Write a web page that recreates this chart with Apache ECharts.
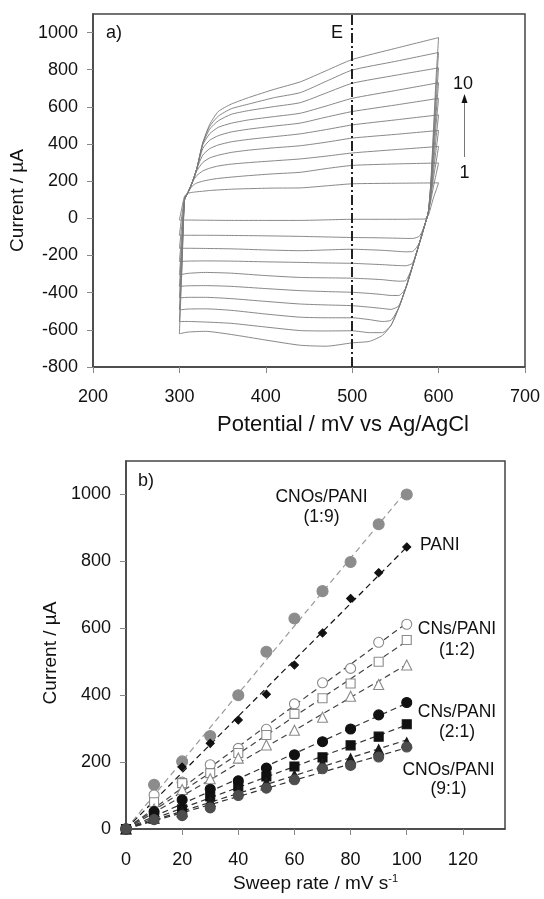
<!DOCTYPE html>
<html><head><meta charset="utf-8">
<script src="https://cdn.jsdelivr.net/npm/echarts@6/dist/echarts.min.js"></script>
<style>html,body{margin:0;padding:0;background:#fff}#c{width:544px;height:899px}</style>
</head><body><div id="c"></div>
<script>
// ---------- Panel a: cyclic voltammograms (10 cycles) ----------
const potentialUp = [300, 303, 306, 310, 315, 320, 327, 335, 345, 360, 380, 410, 440, 470, 500, 550, 600];
const currentUp = [
  [-9, 60, 120, 135, 140, 143, 146, 150, 153, 157, 160, 163, 164, 175, 186, 189, 191],
  [-91, 20, 102, 140, 175, 190, 200, 208, 215, 222, 230, 240, 248, 268, 285, 293, 298],
  [-161, -30, 102, 140, 195, 230, 255, 270, 282, 292, 300, 310, 320, 335, 352, 370, 387],
  [-232, -80, 102, 140, 195, 255, 300, 325, 340, 355, 367, 380, 391, 410, 432, 452, 473],
  [-304, -120, 102, 140, 195, 265, 340, 375, 395, 412, 425, 440, 455, 478, 503, 530, 557],
  [-366, -150, 102, 140, 195, 265, 375, 420, 445, 465, 480, 497, 513, 545, 575, 610, 646],
  [-428, -180, 102, 140, 195, 265, 395, 455, 490, 512, 530, 548, 566, 605, 646, 688, 730],
  [-493, -210, 102, 140, 195, 265, 400, 480, 525, 560, 580, 602, 623, 675, 727, 770, 810],
  [-555, -240, 102, 140, 195, 265, 405, 495, 550, 590, 615, 650, 677, 738, 798, 845, 893],
  [-621, -260, 102, 140, 195, 265, 405, 505, 575, 615, 650, 695, 735, 795, 855, 915, 973]
];
const potentialDown = [600, 597, 594, 591, 588, 584, 578, 570, 562, 554, 545, 535, 520, 500, 470, 440, 400, 360, 330, 310, 300];
const currentDown = [
  [191, 150, 110, 60, 15, -3, -4, -4, -5, -5, -5, -5, -5, -5, -8, -11, -11, -11, -10, -9, -9],
  [298, 235, 170, 95, 30, -35, -95, -108, -108, -107, -106, -105, -104, -103, -100, -97, -94, -92, -91, -91, -91],
  [387, 300, 215, 115, 30, -35, -130, -178, -180, -178, -175, -172, -169, -166, -170, -174, -170, -164, -162, -161, -161],
  [473, 365, 250, 125, 30, -35, -130, -240, -255, -254, -252, -249, -246, -242, -240, -237, -234, -230, -229, -230, -232],
  [557, 430, 290, 140, 30, -35, -130, -255, -335, -338, -335, -330, -326, -322, -320, -318, -308, -295, -291, -296, -304],
  [646, 500, 330, 150, 30, -35, -130, -255, -375, -415, -415, -410, -404, -398, -394, -389, -378, -366, -362, -363, -366],
  [730, 560, 370, 165, 30, -35, -130, -255, -375, -470, -490, -485, -478, -470, -466, -461, -447, -432, -425, -425, -428],
  [810, 620, 400, 175, 30, -35, -130, -255, -375, -480, -548, -555, -545, -535, -535, -532, -515, -495, -487, -488, -493],
  [893, 690, 440, 185, 30, -35, -130, -255, -375, -480, -575, -615, -615, -605, -606, -604, -585, -565, -558, -555, -555],
  [973, 750, 470, 195, 30, -35, -130, -255, -375, -480, -575, -630, -662, -670, -688, -683, -655, -625, -608, -612, -621]
];
const markerPotentialE = 500;
const aXTicks = [200, 300, 400, 500, 600, 700];
const aYTicks = [-800, -600, -400, -200, 0, 200, 400, 600, 800, 1000];

// ---------- Panel b: current vs sweep rate ----------
const sweepRate = [0, 10, 20, 30, 40, 50, 60, 70, 80, 90, 100];
const cnosPani19 = [0, 132, 202, 278, 400, 530, 629, 711, 798, 911, 1000];
const pani = [0, 97, 185, 256, 326, 403, 490, 586, 689, 766, 843];
const cnsPani12Circle = [0, 102, 140, 192, 241, 298, 374, 437, 480, 558, 612];
const cnsPani12Square = [0, 80, 137, 167, 227, 281, 344, 391, 435, 500, 565];
const cnsPani12Triangle = [0, 60, 118, 150, 212, 251, 295, 334, 397, 432, 490];
const cnsPani21Circle = [0, 52, 87, 119, 144, 182, 222, 261, 299, 341, 378];
const cnsPani21Square = [0, 38, 59, 97, 127, 157, 187, 214, 250, 276, 313];
const cnosPani91Triangle = [0, 32, 52, 82, 115, 138, 160, 195, 210, 237, 258];
const cnosPani91Circle = [0, 28, 40, 63, 100, 122, 147, 180, 190, 215, 245];
const bXTicks = [0, 20, 40, 60, 80, 100, 120];
const bYTicks = [0, 200, 400, 600, 800, 1000];

const FONT = 'Liberation Sans, Arial, sans-serif';
const TXT = '#111';

const bSeriesDefs = [
  {name: 'CNOs/PANI (1:9)', values: cnosPani19, symbol: 'circle', size: 11, fill: '#8c8c8c', stroke: '#8c8c8c', line: '#9a9a9a'},
  {name: 'PANI', values: pani, symbol: 'diamond', size: 8, fill: '#111', stroke: '#111', line: '#111'},
  {name: 'CNs/PANI (1:2) a', values: cnsPani12Circle, symbol: 'circle', size: 10, fill: '#fff', stroke: '#8a8a8a', line: '#444'},
  {name: 'CNs/PANI (1:2) b', values: cnsPani12Square, symbol: 'rect', size: 9, fill: '#fff', stroke: '#8a8a8a', line: '#444'},
  {name: 'CNs/PANI (1:2) c', values: cnsPani12Triangle, symbol: 'triangle', size: 10, fill: '#fff', stroke: '#8a8a8a', line: '#444'},
  {name: 'CNs/PANI (2:1) a', values: cnsPani21Circle, symbol: 'circle', size: 10, fill: '#111', stroke: '#111', line: '#333'},
  {name: 'CNs/PANI (2:1) b', values: cnsPani21Square, symbol: 'rect', size: 9, fill: '#111', stroke: '#111', line: '#333'},
  {name: 'CNOs/PANI (9:1) a', values: cnosPani91Triangle, symbol: 'triangle', size: 10, fill: '#1a1a1a', stroke: '#1a1a1a', line: '#333'},
  {name: 'CNOs/PANI (9:1) b', values: cnosPani91Circle, symbol: 'circle', size: 10, fill: '#4d4d4d', stroke: '#4d4d4d', line: '#333'}
];

function fitThroughOrigin(xs, ys) {
  let sxy = 0, sxx = 0;
  for (let i = 0; i < xs.length; i++) { sxy += xs[i] * ys[i]; sxx += xs[i] * xs[i]; }
  const k = sxy / sxx;
  const xEnd = xs[xs.length - 1];
  return [[xs[0], k * xs[0]], [xEnd, k * xEnd]];
}

const series = [];
currentUp.forEach((up, i) => {
  const pts = potentialUp.map((p, j) => [p, up[j]]).concat(potentialDown.map((p, j) => [p, currentDown[i][j]]));
  const s = {
    type: 'line', xAxisIndex: 0, yAxisIndex: 0, data: pts, showSymbol: false, symbol: 'none',
    smooth: 0.2, lineStyle: {color: '#7a7a7a', width: 0.9}, silent: true, z: 2
  };
  if (i === currentUp.length - 1) {
    s.markLine = {
      silent: true, symbol: 'none', label: {show: false},
      lineStyle: {color: '#222', width: 2, type: [10, 3, 2, 3]},
      data: [{xAxis: markerPotentialE}]
    };
  }
  series.push(s);
});

bSeriesDefs.forEach(d => {
  series.push({
    type: 'line', xAxisIndex: 1, yAxisIndex: 1, data: fitThroughOrigin(sweepRate, d.values),
    showSymbol: false, symbol: 'none', silent: true, z: 2,
    lineStyle: {color: d.line, width: 1.2, type: [6, 4]}
  });
});
bSeriesDefs.forEach(d => {
  series.push({
    type: 'scatter', name: d.name, xAxisIndex: 1, yAxisIndex: 1,
    data: sweepRate.map((x, i) => [x, d.values[i]]),
    symbol: d.symbol, symbolSize: d.size, z: 5,
    itemStyle: {color: d.fill, borderColor: d.stroke, borderWidth: 1.1, opacity: 1}
  });
});

const axisCommon = {
  type: 'value',
  splitLine: {show: false},
  axisLine: {show: true, onZero: false, lineStyle: {color: '#444', width: 1.5}},
  axisTick: {show: true, inside: false, length: 6, lineStyle: {color: '#888', width: 1}},
  nameLocation: 'middle'
};
const plain = v => String(v);
const labelStyle = {fontSize: 18, color: TXT, fontFamily: FONT, formatter: plain};
const nameStyle = {fontSize: 19, color: TXT, fontFamily: FONT};

const option = {
  animation: false,
  backgroundColor: '#fff',
  grid: [
    {left: 93, top: 14, width: 432, height: 353, show: true, borderColor: '#444', borderWidth: 1.5, backgroundColor: 'transparent'},
    {left: 126, top: 461, width: 379, height: 368, show: true, borderColor: '#444', borderWidth: 1.5, backgroundColor: 'transparent'}
  ],
  xAxis: [
    Object.assign({}, axisCommon, {
      gridIndex: 0, min: 200, max: 700, interval: 100,
      axisTick: Object.assign({}, axisCommon.axisTick, {customValues: aXTicks}),
      axisLabel: Object.assign({}, labelStyle, {margin: 21, customValues: aXTicks}),
      name: 'Potential / mV vs Ag/AgCl', nameGap: 47,
      nameTextStyle: {fontSize: 22, color: TXT, fontFamily: FONT, padding: [0, 0, 0, 68]}
    }),
    Object.assign({}, axisCommon, {
      gridIndex: 1, min: 0, max: 135, interval: 20,
      axisTick: Object.assign({}, axisCommon.axisTick, {customValues: bXTicks}),
      axisLabel: Object.assign({}, labelStyle, {margin: 22, customValues: bXTicks}),
      name: '{m|Sweep rate / mV s}{s|-1}', nameGap: 44,
      nameTextStyle: {rich: {
        m: {fontSize: 19, color: TXT, fontFamily: FONT, lineHeight: 22},
        s: {fontSize: 11, color: TXT, fontFamily: FONT, lineHeight: 12, verticalAlign: 'top'}
      }}
    })
  ],
  yAxis: [
    Object.assign({}, axisCommon, {
      gridIndex: 0, min: -800, max: 1100, interval: 200,
      axisTick: Object.assign({}, axisCommon.axisTick, {customValues: aYTicks}),
      axisLabel: Object.assign({}, labelStyle, {margin: 15, customValues: aYTicks}),
      name: 'Current / µA', nameGap: 63, nameRotate: 90,
      nameTextStyle: Object.assign({}, nameStyle, {padding: [0, 20, 0, 0]})
    }),
    Object.assign({}, axisCommon, {
      gridIndex: 1, min: 0, max: 1100, interval: 200,
      axisTick: Object.assign({}, axisCommon.axisTick, {customValues: bYTicks}),
      axisLabel: Object.assign({}, labelStyle, {margin: 15, customValues: bYTicks}),
      name: 'Current / µA', nameGap: 61, nameRotate: 90,
      nameTextStyle: Object.assign({}, nameStyle, {padding: [0, 16, 0, 0]})
    })
  ],
  series: series,
  graphic: [
    {type: 'text', left: 106, top: 24, style: {text: 'a)', fontSize: 18, fill: TXT, fontFamily: FONT}},
    {type: 'text', x: 337, y: 33, style: {text: 'E', fontSize: 18, fill: TXT, fontFamily: FONT, align: 'center', verticalAlign: 'middle'}},
    {type: 'text', x: 463, y: 84, style: {text: '10', fontSize: 18, fill: TXT, fontFamily: FONT, align: 'center', verticalAlign: 'middle'}},
    {type: 'text', x: 464.5, y: 173, style: {text: '1', fontSize: 18, fill: TXT, fontFamily: FONT, align: 'center', verticalAlign: 'middle'}},
    {type: 'line', shape: {x1: 464.5, y1: 157, x2: 464.5, y2: 101}, style: {stroke: '#777', lineWidth: 1}},
    {type: 'polygon', shape: {points: [[464.5, 94], [461.5, 103], [467.5, 103]]}, style: {fill: '#111'}},
    {type: 'text', left: 138, top: 472, style: {text: 'b)', fontSize: 18, fill: TXT, fontFamily: FONT}},
    {type: 'text', x: 321.5, y: 507, style: {text: 'CNOs/PANI\n(1:9)', fontSize: 17.5, lineHeight: 20, fill: TXT, fontFamily: FONT, align: 'center', verticalAlign: 'middle'}},
    {type: 'text', x: 420, y: 545, style: {text: 'PANI', fontSize: 17.5, fill: TXT, fontFamily: FONT, align: 'left', verticalAlign: 'middle'}},
    {type: 'text', x: 457, y: 640, style: {text: 'CNs/PANI\n(1:2)', fontSize: 17.5, lineHeight: 21, fill: TXT, fontFamily: FONT, align: 'center', verticalAlign: 'middle'}},
    {type: 'text', x: 457, y: 722, style: {text: 'CNs/PANI\n(2:1)', fontSize: 17.5, lineHeight: 20, fill: TXT, fontFamily: FONT, align: 'center', verticalAlign: 'middle'}},
    {type: 'text', x: 448.5, y: 779.5, style: {text: 'CNOs/PANI\n(9:1)', fontSize: 17.5, lineHeight: 19, fill: TXT, fontFamily: FONT, align: 'center', verticalAlign: 'middle'}}
  ]
};

const chart = echarts.init(document.getElementById('c'), null, {renderer: 'canvas'});
chart.setOption(option);
</script>
</body></html>
